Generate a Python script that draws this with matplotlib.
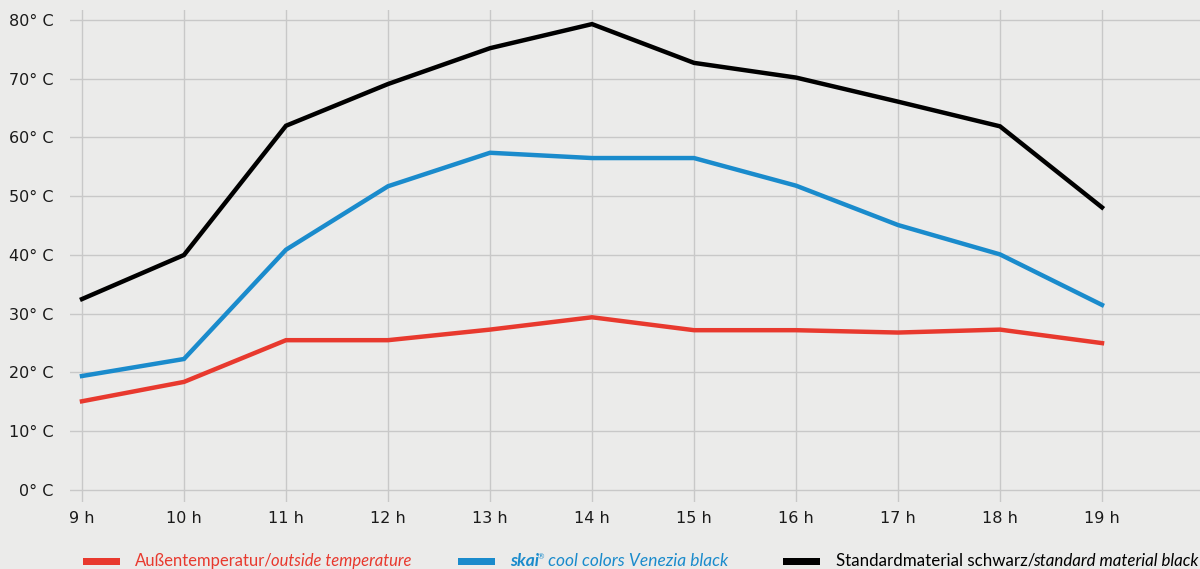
import matplotlib
matplotlib.use("Agg")
import matplotlib.pyplot as plt
from matplotlib.patches import Rectangle

hours = [9, 10, 11, 12, 13, 14, 15, 16, 17, 18, 19]
hour_labels = [f"{h} h" for h in hours]
outside = [15.1, 18.4, 25.5, 25.5, 27.3, 29.4, 27.2, 27.2, 26.8, 27.3, 25.0]
skai = [19.4, 22.3, 40.9, 51.7, 57.4, 56.5, 56.5, 51.8, 45.1, 40.1, 31.5]
standard = [32.5, 40.0, 62.0, 69.1, 75.2, 79.3, 72.7, 70.2, 66.1, 61.9, 48.1]
y_ticks = [0, 10, 20, 30, 40, 50, 60, 70, 80]
y_labels = [f"{v}° C" for v in y_ticks]

RED = "#e8392e"
BLUE = "#1a8bcc"
BLACK = "#000000"
BG = "#ebebea"

W, H = 1200, 569
fig = plt.figure(figsize=(W / 100, H / 100), dpi=100, facecolor=BG)

ax_left_px, ax_right_px = 70, 1200
ax_top_px, ax_bot_px = 10, 501.75
ax = fig.add_axes([ax_left_px / W, 1 - ax_bot_px / H,
                   (ax_right_px - ax_left_px) / W, (ax_bot_px - ax_top_px) / H])
ax.set_facecolor(BG)
ax.set_xlim(9 - 12 / 102, 9 + (1200 - 82) / 102)
ax.set_ylim(-2, 81.7)
for s in ax.spines.values():
    s.set_visible(False)
ax.set_xticks(hours)
ax.set_xticklabels(hour_labels)
ax.set_yticks(y_ticks)
ax.set_yticklabels(y_labels)
ax.tick_params(length=0, labelsize=11.5, colors="#1a1a1a")
ax.tick_params(axis="y", pad=12)
ax.tick_params(axis="x", pad=7)
ax.grid(True, color="#c8c8c8", linewidth=1.0)
ax.set_axisbelow(True)

ax.plot(hours, outside, color=RED, lw=3.2, solid_joinstyle="miter")
ax.plot(hours, skai, color=BLUE, lw=3.2, solid_joinstyle="miter")
ax.plot(hours, standard, color=BLACK, lw=3.2, solid_joinstyle="miter")

# legend (manual)
fam = ["Lato", "DejaVu Sans"]
fig.canvas.draw()
renderer = fig.canvas.get_renderer()
ly = 1 - 561 / H

def draw_pieces(x_px, pieces, size):
    x = x_px
    made = []
    for txt, kw in pieces:
        kw = dict(kw)
        dy = kw.pop("dy", 0)
        rel = kw.pop("rel", 1.0)
        shift = kw.pop("shift", 0)
        x += shift
        t = fig.text(x / W, ly + dy / H, txt, va="center", ha="left",
                     family=fam, fontsize=size * rel, **kw)
        bb = t.get_window_extent(renderer)
        x += bb.width
        made.append(t)
    return made, x - x_px

def fitted(x_px, x_end, pieces, base=12.0):
    made, w = draw_pieces(x_px, pieces, base)
    for t in made:
        t.remove()
    draw_pieces(x_px, pieces, base * (x_end - x_px) / w)

def patch(x0, x1, color):
    fig.patches.append(Rectangle((x0 / W, 1 - 564.5 / H), (x1 - x0) / W, 7 / H,
                                 transform=fig.transFigure, facecolor=color,
                                 edgecolor="none"))

patch(83, 120, RED)
fitted(135, 410, [("Außentemperatur/", dict(color=RED)),
                  ("outside temperature", dict(color=RED, style="italic", shift=-2))])
patch(458, 495, BLUE)
fitted(510, 728, [("skai", dict(color=BLUE, style="italic", weight="bold")),
                  ("®", dict(color=BLUE, rel=0.45, dy=4, shift=-1)),
                  (" cool colors Venezia black", dict(color=BLUE, style="italic"))])
patch(783, 820, BLACK)
fitted(836, 1196, [("Standardmaterial schwarz/", dict(color=BLACK)),
                   ("standard material black", dict(color=BLACK, style="italic", shift=-2))])

fig.savefig("out.png", dpi=100, facecolor=BG)
